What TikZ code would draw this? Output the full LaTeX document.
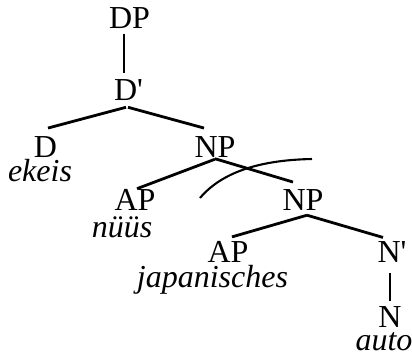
\documentclass[tikz,border=0pt]{standalone}
\usepackage{fontspec}
\setmainfont{Liberation Serif}
\begin{document}
\begin{tikzpicture}[x=1pt,y=-1pt,
  cat/.style={anchor=base,inner sep=0pt,font=\fontsize{32}{38}\selectfont},
  word/.style={anchor=base,inner sep=0pt,font=\fontsize{32}{38}\selectfont\itshape},
  branch/.style={line width=2.8pt},
  arcline/.style={line width=2.1pt}]
\useasboundingbox (0,0) rectangle (412,354);
\node[cat] (DP) at (129.5,28.3) {DP};
\node[cat] (Dbar) at (128.5,100) {D\textquotesingle};
\node[cat] (D) at (45.5,157) {D};
\node[word] (ekeis) at (40,181) {ekeis};
\node[cat] (NP1) at (215,157) {NP};
\node[cat] (AP1) at (135,210) {AP};
\node[word] (nuus) at (122,237) {nüüs};
\node[cat] (NP2) at (303,210) {NP};
\node[cat] (AP2) at (228,262) {AP};
\node[word] (jap) at (212.5,287) {japanisches};
\node[cat] (Nbar) at (392,262) {N\textquotesingle};
\node[cat] (N) at (390,327) {N};
\node[word] (auto) at (384,350) {auto};
\draw[branch] ([xshift=-5.5pt,yshift=-5pt]DP.south) -- ([xshift=-4.5pt,yshift=5.7pt]Dbar.north);
\draw[branch] ([xshift=-2.5pt,yshift=-7pt]Dbar.south) -- ([xshift=2.5pt,yshift=7.8pt]D.north);
\draw[branch] ([xshift=-0.5pt,yshift=-7pt]Dbar.south) -- ([xshift=-11pt,yshift=7.8pt]NP1.north);
\draw[branch] ([yshift=-2pt]NP1.south) -- ([xshift=2pt,yshift=0pt]AP1.north);
\draw[branch] ([yshift=-1.5pt]NP1.south) -- ([xshift=-10pt,yshift=6.8pt]NP2.north);
\draw[branch] ([xshift=4pt,yshift=-5pt]NP2.south) -- ([xshift=4pt,yshift=3.8pt]AP2.north);
\draw[branch] ([xshift=4pt,yshift=-5pt]NP2.south) -- ([xshift=-9pt,yshift=3.4pt]Nbar.north);
\draw[branch] ([xshift=-2pt,yshift=-11pt]Nbar.south) -- ([yshift=4.8pt]N.north);
\draw[arcline] (200,198) .. controls (222,172) and (260,160) .. (312,159);
\end{tikzpicture}
\end{document}
